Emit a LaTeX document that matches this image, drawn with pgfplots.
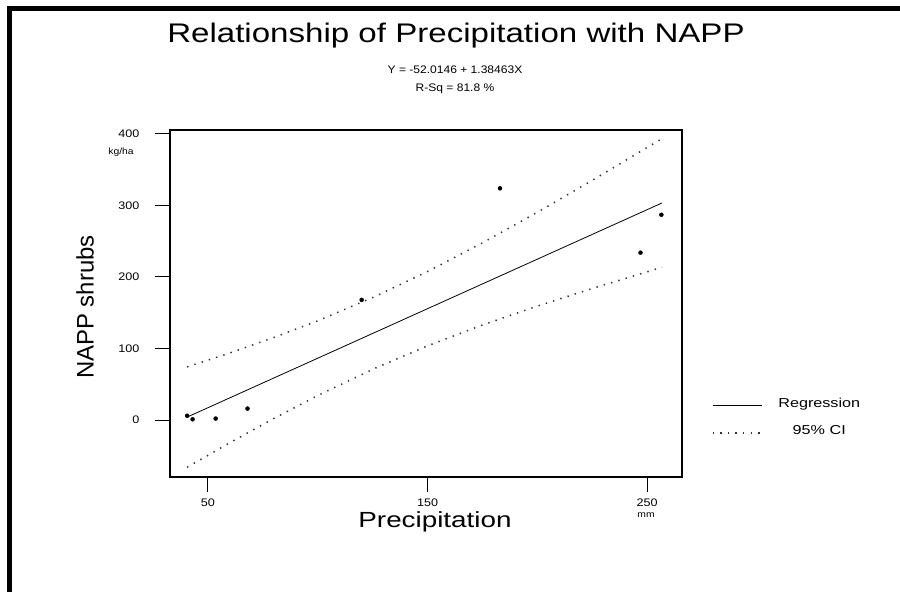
\documentclass[border=0pt]{standalone}
\usepackage{fontspec}
\setmainfont{Liberation Sans}
\usepackage{pgfplots}
\pgfplotsset{compat=1.18}
\begin{document}
\begin{tikzpicture}[x=1bp,y=1bp]
\useasboundingbox (0,0) rectangle (900,592);
\fill[white] (0,0) rectangle (900,592);
\draw[line width=5bp, black] (9,0) -- (9,583) -- (900,583);
% title and equation
\node[anchor=base, xscale=1.23, inner sep=0] at (456,549) {\fontsize{27}{30}\selectfont Relationship of Precipitation with NAPP};
\node[anchor=base, xscale=1.1, inner sep=0] at (455,518) {\fontsize{11}{12}\selectfont Y = -52.0146 + 1.38463X};
\node[anchor=base, xscale=1.1, inner sep=0] at (455,500) {\fontsize{11}{12}\selectfont R-Sq = 81.8 \%};
% axis labels
\node[rotate=90, inner sep=0] at (85,285) {\fontsize{24}{26}\selectfont NAPP shrubs};
\node[anchor=base, xscale=1.27, inner sep=0] at (435,64) {\fontsize{22}{24}\selectfont Precipitation};
\node[xscale=1.15, inner sep=0] at (121,440) {\fontsize{9}{10}\selectfont kg/ha};
\node[xscale=1.15, inner sep=0] at (646,77) {\fontsize{9}{10}\selectfont mm};
\begin{axis}[
  at={(170bp,115bp)}, anchor=south west, scale only axis,
  width=512bp, height=347bp,
  xmin=32.7, xmax=265.9, ymin=-79.7, ymax=405.6,
  axis line style={line width=1.4bp},
  xtick={50,150,250}, ytick={0,100,200,300,400},
  xticklabels={50,150,{\raisebox{6bp}{250}}},
  tick pos=left, tick align=outside,
  major tick length=15bp,
  tick style={line width=1bp, black},
  ticklabel style={font=\fontsize{11}{12}\selectfont, xscale=1.15},
  yticklabel style={xshift=-10bp},
  xticklabel style={yshift=-3bp},
  /pgf/number format/assume math mode=true,
  legend style={at={(1.052,0.24)}, anchor=north west, draw=none, fill=none,
    font=\fontsize{13}{14}\selectfont, row sep=13bp,
    /tikz/every odd column/.style={column sep=14bp}},
  legend cell align=center,
  legend image code/.code={\draw[#1] (0bp,-2bp) -- (49bp,-2bp);},
]
\addplot[black, line width=0.8bp] coordinates {(40.5,4.06) (256.8,303.56)};
\addlegendentry{\scalebox{1.25}[1]{Regression}}
\addplot[black!80, line width=1.5bp, dash pattern=on 1.4bp off 6.2bp] coordinates {
(40.5,74.2) (60,93.8) (80,115.4) (100,138.7) (126,172.6) (150,207.7) (175,247.7) (200,290.5) (225,335.1) (256.8,393.6)};
\addlegendentry{\scalebox{1.25}[1]{95\% CI}}
\addplot[black!80, line width=1.5bp, dash pattern=on 1.4bp off 6.2bp, forget plot] coordinates {
(40.5,-66.1) (60,-31.7) (80,2.2) (100,34.2) (126,72.3) (150,103.7) (175,132.9) (200,159.3) (225,183.9) (256.8,213.6)};
\addplot[only marks, mark=*, mark size=2bp, black, forget plot] coordinates {
(40.5,6) (43,1) (53.5,2) (68,16) (120,168) (183,324) (247,234) (256.5,287)};
\end{axis}
\end{tikzpicture}
\end{document}
